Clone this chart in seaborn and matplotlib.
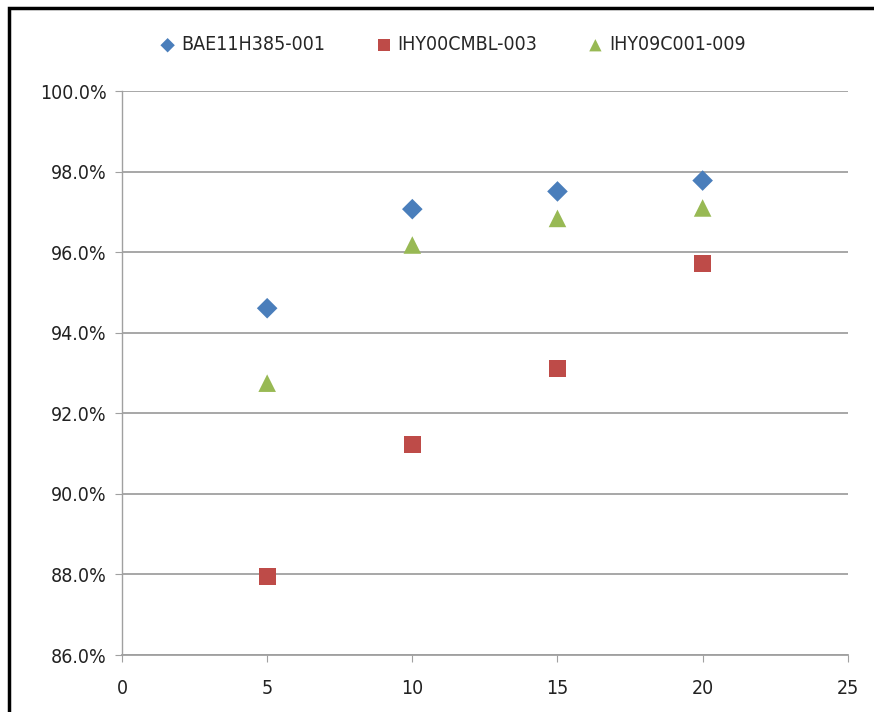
import matplotlib
matplotlib.use("Agg")
import matplotlib.pyplot as plt
import matplotlib.ticker as mticker
import seaborn as sns
import pandas as pd
from matplotlib.patches import Rectangle

x_vals = [5, 10, 15, 20]
series_names = ["BAE11H385-001", "IHY00CMBL-003", "IHY09C001-009"]
bae = [0.9461, 0.9707, 0.9751, 0.9778]
ihy00 = [0.8796, 0.9122, 0.9312, 0.9573]
ihy09 = [0.9275, 0.9618, 0.9684, 0.9710]
colors = ["#4A7EBB", "#BE4B48", "#98B954"]
markers = ["D", "s", "^"]

rows = []
for name, vals in zip(series_names, [bae, ihy00, ihy09]):
    for xv, yv in zip(x_vals, vals):
        rows.append({"x": xv, "y": yv, "series": name})
df = pd.DataFrame(rows)

sns.set_style("white")
plt.rcParams['font.family'] = ['DejaVu Sans']
plt.rcParams['font.stretch'] = 'condensed'

fig = plt.figure(figsize=(8.74, 7.12), dpi=100)
ax = fig.add_axes([0.1396, 0.080, 0.8304, 0.792])

sizes = {"BAE11H385-001": 110, "IHY00CMBL-003": 150, "IHY09C001-009": 160}
for name, c, m in zip(series_names, colors, markers):
    sub = df[df.series == name]
    sns.scatterplot(data=sub, x="x", y="y", ax=ax, color=c, marker=m,
                    s=sizes[name], edgecolor="none", label=name, zorder=3)

ax.set_xlim(0, 25)
ax.set_ylim(0.86, 1.00)
ax.set_xticks([0, 5, 10, 15, 20, 25])
ax.set_yticks([0.86, 0.88, 0.90, 0.92, 0.94, 0.96, 0.98, 1.00])
ax.yaxis.set_major_formatter(mticker.FuncFormatter(lambda v, p: f"{v*100:.1f}%"))
ax.grid(axis="y", color="#a0a0a0", linewidth=1.3)
ax.grid(axis="x", visible=False)
for s in ["top", "right"]:
    ax.spines[s].set_visible(False)
ax.spines["left"].set_color("#a0a0a0")
ax.spines["bottom"].set_color("#a0a0a0")
ax.spines["left"].set_linewidth(1.0)
ax.spines["bottom"].set_linewidth(1.3)
ax.tick_params(axis="both", direction="out", length=5, color="#a0a0a0",
               labelsize=14, labelcolor="#222222", left=True, bottom=True)
ax.tick_params(axis="x", pad=12)
ax.tick_params(axis="y", pad=6)
ax.set_xlabel("")
ax.set_ylabel("")

leg = ax.legend(loc="center", bbox_to_anchor=(0.518, 0.937), bbox_transform=fig.transFigure,
                ncol=3, frameon=False, fontsize=14, handlelength=0.8, handletextpad=0.3,
                columnspacing=2.6, markerscale=0.7)

fig.patches.append(Rectangle((0.010, -0.01), 1.0, 0.999, transform=fig.transFigure,
                             fill=False, edgecolor="black", linewidth=2.5))

fig.savefig("out.png", dpi=100)
